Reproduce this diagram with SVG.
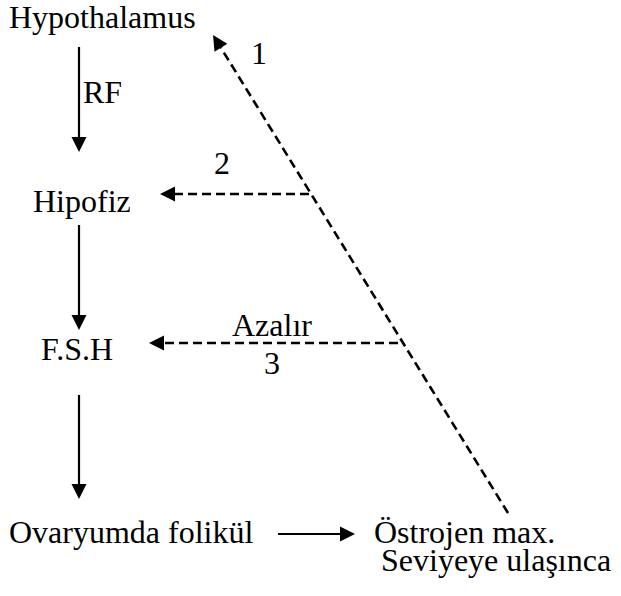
<svg xmlns="http://www.w3.org/2000/svg" width="621" height="596" viewBox="0 0 621 596">
  <style>
    .t { font-family: 'Liberation Serif', 'DejaVu Serif', serif; font-size: 32px; fill: #000; }
    .link { fill: none; stroke: #000; stroke-width: 2.2; }
    .dash { stroke-width: 2.6; stroke-dasharray: 9 5; }
  </style>
  <defs>
    <marker id="head" markerUnits="userSpaceOnUse" markerWidth="16" markerHeight="16" refX="0" refY="7.5" orient="auto" overflow="visible">
      <path d="M0,0 L15,7.5 L0,15 Z" fill="#000" stroke="none"/>
    </marker>
  </defs>

  <rect width="621" height="596" fill="#fff"/>

  <g id="connectors">
    <!-- main chain -->
    <line class="link" x1="79" y1="47" x2="79" y2="137" marker-end="url(#head)"/>
    <line class="link" x1="79" y1="225" x2="79" y2="315" marker-end="url(#head)"/>
    <line class="link" x1="79" y1="395" x2="79" y2="484" marker-end="url(#head)"/>
    <line class="link" x1="278" y1="534" x2="340" y2="534" marker-end="url(#head)"/>
    <!-- feedback loops -->
    <line class="link dash" x1="508" y1="513" x2="220.9" y2="47.8" marker-end="url(#head)"/>
    <line class="link dash" x1="309" y1="194" x2="175" y2="194" marker-end="url(#head)"/>
    <line class="link dash" x1="398" y1="343" x2="164" y2="343" marker-end="url(#head)"/>
  </g>

  <g id="labels" class="t">
    <text x="83" y="103">RF</text>
    <text x="251" y="64">1</text>
    <text x="214" y="174">2</text>
    <text x="232" y="336">Azalır</text>
    <text x="264" y="374">3</text>
  </g>

  <g id="hypothalamus" class="t"><text x="9" y="28">Hypothalamus</text></g>
  <g id="hipofiz" class="t"><text x="33" y="212">Hipofiz</text></g>
  <g id="fsh" class="t"><text x="41" y="360">F.S.H</text></g>
  <g id="ovaryumda-folikul" class="t"><text x="9" y="543">Ovaryumda folikül</text></g>
  <g id="ostrojen" class="t">
    <text x="374" y="543">Östrojen max.</text>
    <text x="381" y="571">Seviyeye ulaşınca</text>
  </g>
</svg>
